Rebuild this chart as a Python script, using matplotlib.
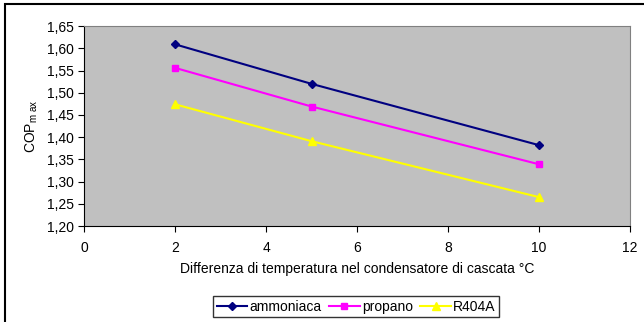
import matplotlib.pyplot as plt
from matplotlib.patches import Rectangle
from matplotlib.ticker import FuncFormatter

delta_t = [2, 5, 10]
ammoniaca = [1.609, 1.520, 1.382]
propano = [1.556, 1.469, 1.339]
r404a = [1.474, 1.391, 1.265]

plt.rcParams['font.family'] = ['Liberation Sans', 'DejaVu Sans']

fig = plt.figure(figsize=(6.44, 3.22), dpi=100)
ax = fig.add_axes([0.1304, 0.298, 0.848, 0.621])
ax.set_facecolor('#c0c0c0')

ax.plot(delta_t, ammoniaca, color='#000080', marker='D', markersize=4, lw=1.5, label='ammoniaca')
ax.plot(delta_t, propano, color='#ff00ff', marker='s', markersize=5, lw=1.5, label='propano')
ax.plot(delta_t, r404a, color='#ffff00', marker='^', markersize=5.5, lw=1.5, label='R404A')

ax.set_xlim(0, 12)
ax.set_ylim(1.20, 1.65)
ax.set_xticks(range(0, 13, 2))
ax.set_yticks([1.20 + 0.05 * i for i in range(10)])
ax.yaxis.set_major_formatter(FuncFormatter(lambda v, p: f'{v:.2f}'.replace('.', ',')))
ax.tick_params(labelsize=10, length=4, width=0.8, direction='out')
ax.tick_params(axis='x', pad=7)

for s in ['top', 'right']:
    ax.spines[s].set_color('#808080')
for s in ['left', 'bottom']:
    ax.spines[s].set_color('black')

ax.set_xlabel('Differenza di temperatura nel condensatore di cascata °C', fontsize=10, labelpad=5)
ax.set_ylabel(r'COP$_{\mathregular{m\ ax}}$', fontsize=10, labelpad=5)

fig.legend(loc='center', bbox_to_anchor=(0.553, 0.047), ncol=3, fontsize=10,
           frameon=True, fancybox=False, edgecolor='black', handlelength=2.2,
           handletextpad=0.15, columnspacing=0.55, borderpad=0.25)

fig.patches.append(Rectangle((0.007, -0.05), 1.2, 1.037, transform=fig.transFigure,
                             fill=False, edgecolor='black', lw=1.5))

fig.savefig('out.png', dpi=100)
